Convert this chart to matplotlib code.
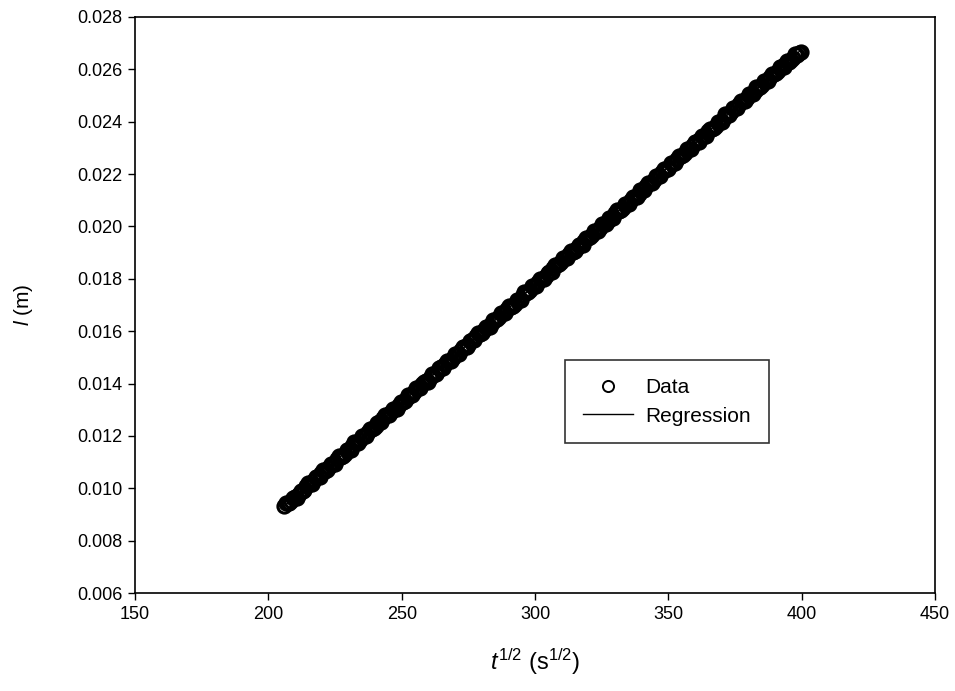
import numpy as np
import matplotlib
matplotlib.use("Agg")
import matplotlib.pyplot as plt

plt.rcParams['font.family'] = ['Liberation Sans', 'DejaVu Sans']
plt.rcParams['mathtext.fontset'] = 'custom'
plt.rcParams['mathtext.rm'] = 'Liberation Sans'
plt.rcParams['mathtext.it'] = 'Liberation Sans:italic'

# sqrt(t) values (first pass along the band)
t_sqrt_a = [206.0, 207.3, 208.5, 209.9, 211.4, 212.8, 214.1, 215.6, 217.0, 218.4,
            219.9, 221.3, 222.8, 224.2, 225.7, 227.1, 228.6, 230.0, 231.5, 232.9,
            234.4, 235.8, 237.3, 238.7, 240.2, 241.6, 243.1, 244.5, 246.0, 247.4,
            248.9, 250.3, 251.8, 253.2, 254.7, 256.1, 257.6, 259.0, 260.5, 261.9,
            263.4, 264.8, 266.3, 267.7, 269.2, 270.6, 272.1, 273.5, 275.0, 276.4,
            277.9, 279.3, 280.8, 282.2, 283.7, 285.1, 286.6, 288.0, 289.5, 290.9,
            292.4, 293.8, 295.3, 296.7, 298.2, 299.6, 301.1, 302.5, 304.0, 305.4,
            306.9, 308.3, 309.8, 311.2, 312.7, 314.1, 315.6, 317.0, 318.5, 319.9,
            321.4, 322.8, 324.3, 325.7, 327.2, 328.6, 330.1, 331.5, 333.0, 334.4,
            335.9, 337.3, 338.8, 340.2, 341.7, 343.1, 344.6, 346.0, 347.5, 348.9,
            350.4, 351.8, 353.3, 354.7, 356.2, 357.6, 359.1, 360.5, 362.0, 363.4,
            364.9, 366.3, 367.8, 369.2, 370.7, 372.1, 373.6, 375.0, 376.5, 377.9,
            379.4, 380.8, 382.3, 383.7, 385.2, 386.6, 388.1, 389.5, 391.0, 392.4,
            393.9, 395.3, 396.8, 398.2, 399.6]

# penetration length l (m)
l_m_a = [0.00931, 0.00943, 0.00950, 0.00966, 0.00980, 0.00989, 0.01007, 0.01018, 0.01030, 0.01045,
         0.01058, 0.01065, 0.01083, 0.01094, 0.01110, 0.01120, 0.01131, 0.01147, 0.01163, 0.01173,
         0.01184, 0.01200, 0.01215, 0.01225, 0.01236, 0.01252, 0.01267, 0.01278, 0.01290, 0.01304,
         0.01318, 0.01328, 0.01346, 0.01356, 0.01367, 0.01382, 0.01397, 0.01410, 0.01420, 0.01434,
         0.01445, 0.01462, 0.01474, 0.01486, 0.01497, 0.01512, 0.01528, 0.01539, 0.01549, 0.01565,
         0.01580, 0.01591, 0.01605, 0.01615, 0.01632, 0.01643, 0.01655, 0.01669, 0.01685, 0.01694,
         0.01705, 0.01721, 0.01737, 0.01747, 0.01758, 0.01773, 0.01789, 0.01799, 0.01811, 0.01826,
         0.01841, 0.01852, 0.01863, 0.01878, 0.01893, 0.01904, 0.01917, 0.01929, 0.01945, 0.01956,
         0.01967, 0.01984, 0.01996, 0.02008, 0.02020, 0.02034, 0.02050, 0.02060, 0.02071, 0.02087,
         0.02102, 0.02113, 0.02125, 0.02138, 0.02154, 0.02165, 0.02176, 0.02192, 0.02207, 0.02217,
         0.02229, 0.02243, 0.02259, 0.02269, 0.02280, 0.02296, 0.02311, 0.02321, 0.02335, 0.02346,
         0.02363, 0.02374, 0.02385, 0.02400, 0.02415, 0.02426, 0.02437, 0.02452, 0.02467, 0.02478,
         0.02489, 0.02504, 0.02519, 0.02530, 0.02541, 0.02557, 0.02571, 0.02583, 0.02594, 0.02608,
         0.02619, 0.02630, 0.02643, 0.02654, 0.02667]

# second pass, points lying between the first ones
t_sqrt_b = [206.6, 207.9, 209.2, 210.6, 212.1, 213.5, 214.9, 216.3, 217.7, 219.2,
            220.6, 222.1, 223.5, 225.0, 226.4, 227.9, 229.3, 230.8, 232.2, 233.7,
            235.1, 236.6, 238.0, 239.5, 240.9, 242.4, 243.8, 245.3, 246.7, 248.2,
            249.6, 251.1, 252.5, 254.0, 255.4, 256.9, 258.3, 259.8, 261.2, 262.7,
            264.1, 265.6, 267.0, 268.5, 269.9, 271.4, 272.8, 274.3, 275.7, 277.2,
            278.6, 280.1, 281.5, 283.0, 284.4, 285.9, 287.3, 288.8, 290.2, 291.7,
            293.1, 294.6, 296.0, 297.5, 298.9, 300.4, 301.8, 303.3, 304.7, 306.2,
            307.6, 309.1, 310.5, 312.0, 313.4, 314.9, 316.3, 317.8, 319.2, 320.7,
            322.1, 323.6, 325.0, 326.5, 327.9, 329.4, 330.8, 332.3, 333.7, 335.2,
            336.6, 338.1, 339.5, 341.0, 342.4, 343.9, 345.3, 346.8, 348.2, 349.7,
            351.1, 352.6, 354.0, 355.5, 356.9, 358.4, 359.8, 361.3, 362.7, 364.2,
            365.6, 367.1, 368.5, 370.0, 371.4, 372.9, 374.3, 375.8, 377.2, 378.7,
            380.1, 381.6, 383.0, 384.5, 385.9, 387.4, 388.8, 390.3, 391.7, 393.2,
            394.6, 396.1, 397.5, 398.9]

l_m_b = [0.00943, 0.00942, 0.00963, 0.00964, 0.00991, 0.00995, 0.01019, 0.01017, 0.01042, 0.01045,
         0.01070, 0.01069, 0.01093, 0.01094, 0.01122, 0.01123, 0.01147, 0.01147, 0.01175, 0.01174,
         0.01198, 0.01198, 0.01226, 0.01229, 0.01251, 0.01252, 0.01279, 0.01279, 0.01302, 0.01303,
         0.01330, 0.01332, 0.01356, 0.01356, 0.01384, 0.01383, 0.01407, 0.01407, 0.01435, 0.01437,
         0.01460, 0.01460, 0.01488, 0.01488, 0.01511, 0.01512, 0.01539, 0.01541, 0.01564, 0.01565,
         0.01592, 0.01592, 0.01616, 0.01616, 0.01644, 0.01646, 0.01669, 0.01669, 0.01697, 0.01696,
         0.01720, 0.01720, 0.01748, 0.01750, 0.01773, 0.01774, 0.01801, 0.01801, 0.01824, 0.01825,
         0.01852, 0.01855, 0.01878, 0.01878, 0.01906, 0.01905, 0.01929, 0.01929, 0.01957, 0.01958,
         0.01982, 0.01982, 0.02010, 0.02010, 0.02033, 0.02034, 0.02061, 0.02064, 0.02086, 0.02087,
         0.02114, 0.02114, 0.02138, 0.02138, 0.02166, 0.02167, 0.02191, 0.02191, 0.02219, 0.02218,
         0.02242, 0.02242, 0.02270, 0.02273, 0.02295, 0.02296, 0.02323, 0.02323, 0.02346, 0.02347,
         0.02374, 0.02376, 0.02400, 0.02400, 0.02428, 0.02427, 0.02451, 0.02451, 0.02479, 0.02481,
         0.02504, 0.02504, 0.02532, 0.02532, 0.02555, 0.02556, 0.02583, 0.02585, 0.02608, 0.02609,
         0.02632, 0.02637, 0.02658, 0.02663]

x = np.array(t_sqrt_a + t_sqrt_b)
y = np.array(l_m_a + l_m_b)
order = np.argsort(x)
x, y = x[order], y[order]
coef = np.polyfit(x, y, 1)  # linear regression

fig = plt.figure(figsize=(9.55, 6.91), dpi=100)
ax = fig.add_axes([0.1414, 0.1418, 0.8377, 0.8336])

# open circles with no fill, so overlapping rings build up the dark band
ax.plot(x, y, 'o', mfc='none', mec='black', mew=2.2, ms=9.5, ls='none', label='Data')
ax.plot(x, np.polyval(coef, x), '-', color='black', lw=1, label='Regression')

ax.set_xlim(150, 450)
ax.set_ylim(0.006, 0.028)
ax.set_xticks([150, 200, 250, 300, 350, 400, 450])
ax.set_yticks(np.arange(0.006, 0.0281, 0.002))
ax.yaxis.set_major_formatter(plt.FormatStrFormatter('%.3f'))
ax.tick_params(direction='out', length=5, width=1, labelsize=13, top=False, right=False, pad=4)
for s in ax.spines.values():
    s.set_linewidth(1.2)

ax.set_xlabel(r'$t^{1/2}$ (s$^{1/2}$)', fontsize=17)
ax.set_ylabel(r'$l$ (m)', fontsize=15)
ax.xaxis.set_label_coords(0.5, -0.094)
ax.yaxis.set_label_coords(-0.125, 0.5)

leg = ax.legend(loc='lower left', bbox_to_anchor=(0.5375, 0.26), borderaxespad=0,
                fontsize=15, frameon=True, fancybox=False, edgecolor='black',
                handlelength=2.4, borderpad=0.85, labelspacing=0.45, handletextpad=0.6)
leg.get_frame().set_linewidth(1.2)
# legend circle drawn thinner and smaller than the data rings
h = leg.legend_handles[0]
h.set_markersize(8)
h.set_markeredgewidth(1.4)

fig.savefig('out.png', dpi=100)
